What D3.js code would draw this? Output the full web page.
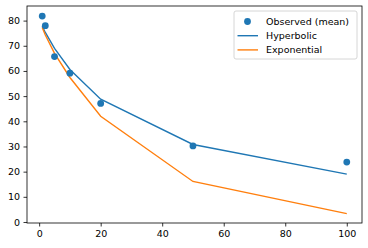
<!DOCTYPE html>
<html>
<head>
<meta charset="utf-8">
<script src="https://cdn.jsdelivr.net/npm/d3@7"></script>
<style>
  body { margin: 0; background: #fff; }
  text { font-family: "DejaVu Sans", sans-serif; }
</style>
</head>
<body>
<div id="chart"></div>
<script>
// delays and values
var delays = [1, 2, 5, 10, 20, 50, 100];
var observed = [81.8, 78.0, 65.7, 59.1, 47.1, 30.2, 23.8];
var hyperbolic = [77.8, 75.3, 69.0, 60.6, 48.8, 30.8, 19.0];
var exponential = [77.3, 74.3, 67.0, 57.4, 42.0, 16.1, 3.3];
var xTicks = [0, 20, 40, 60, 80, 100];
var yTicks = [0, 10, 20, 30, 40, 50, 60, 70, 80];

var W = 368, H = 248;
var margin = {top: 6, right: 6, bottom: 25, left: 27};
var blue = "#1f77b4", orange = "#ff7f0e";

var svg = d3.select("#chart").append("svg")
    .attr("width", W)
    .attr("height", H);

var x = d3.scaleLinear().domain([-3.95, 104.95]).range([margin.left, W - margin.right]);
var y = d3.scaleLinear().domain([-0.4, 85.8]).range([H - margin.bottom, margin.top]);

var xAxis = d3.axisBottom(x).tickValues(xTicks).tickSize(3.5).tickPadding(3.5);
var yAxis = d3.axisLeft(y).tickValues(yTicks).tickSize(3.5).tickPadding(3.5);

var gx = svg.append("g")
    .attr("transform", "translate(0," + (H - margin.bottom) + ")")
    .call(xAxis);
var gy = svg.append("g")
    .attr("transform", "translate(" + margin.left + ",0)")
    .call(yAxis);

[gx, gy].forEach(function(g) {
  g.select(".domain").remove();
  g.selectAll(".tick line").attr("stroke", "#000").attr("stroke-width", 0.8);
  g.selectAll(".tick text").attr("fill", "#000").style("font-size", "9.5px")
    .style("font-family", "'DejaVu Sans', sans-serif");
});

var line = d3.line()
    .x(function(d, i) { return x(delays[i]); })
    .y(function(d) { return y(d); });

svg.append("path")
    .attr("fill", "none")
    .attr("stroke", blue)
    .attr("stroke-width", 1.4)
    .attr("d", line(hyperbolic));

svg.append("path")
    .attr("fill", "none")
    .attr("stroke", orange)
    .attr("stroke-width", 1.4)
    .attr("d", line(exponential));

svg.selectAll("circle.obs")
    .data(observed)
    .enter().append("circle")
    .attr("class", "obs")
    .attr("cx", function(d, i) { return x(delays[i]); })
    .attr("cy", function(d) { return y(d); })
    .attr("r", 3.4)
    .attr("fill", blue);

// frame
svg.append("rect")
    .attr("x", margin.left)
    .attr("y", margin.top)
    .attr("width", W - margin.left - margin.right)
    .attr("height", H - margin.top - margin.bottom)
    .attr("fill", "none")
    .attr("stroke", "#000")
    .attr("stroke-width", 0.8);

// legend
var legend = svg.append("g").attr("transform", "translate(234,11)");
legend.append("rect")
    .attr("width", 123)
    .attr("height", 48)
    .attr("rx", 2)
    .attr("fill", "#fff")
    .attr("fill-opacity", 0.8)
    .attr("stroke", "#ccc")
    .attr("stroke-width", 0.8);

var items = [
  {label: "Observed (mean)", kind: "dot", color: blue},
  {label: "Hyperbolic", kind: "line", color: blue},
  {label: "Exponential", kind: "line", color: orange}
];
items.forEach(function(it, i) {
  var cy = 10.5 + i * 14.2;
  if (it.kind === "dot") {
    legend.append("circle").attr("cx", 13.5).attr("cy", cy).attr("r", 3.4).attr("fill", it.color);
  } else {
    legend.append("line").attr("x1", 3.5).attr("x2", 24).attr("y1", cy).attr("y2", cy)
      .attr("stroke", it.color).attr("stroke-width", 1.4);
  }
  legend.append("text")
    .attr("x", 32)
    .attr("y", cy)
    .attr("dy", "0.35em")
    .style("font-size", "9.5px")
    .attr("fill", "#000")
    .text(it.label);
});
</script>
</body>
</html>
